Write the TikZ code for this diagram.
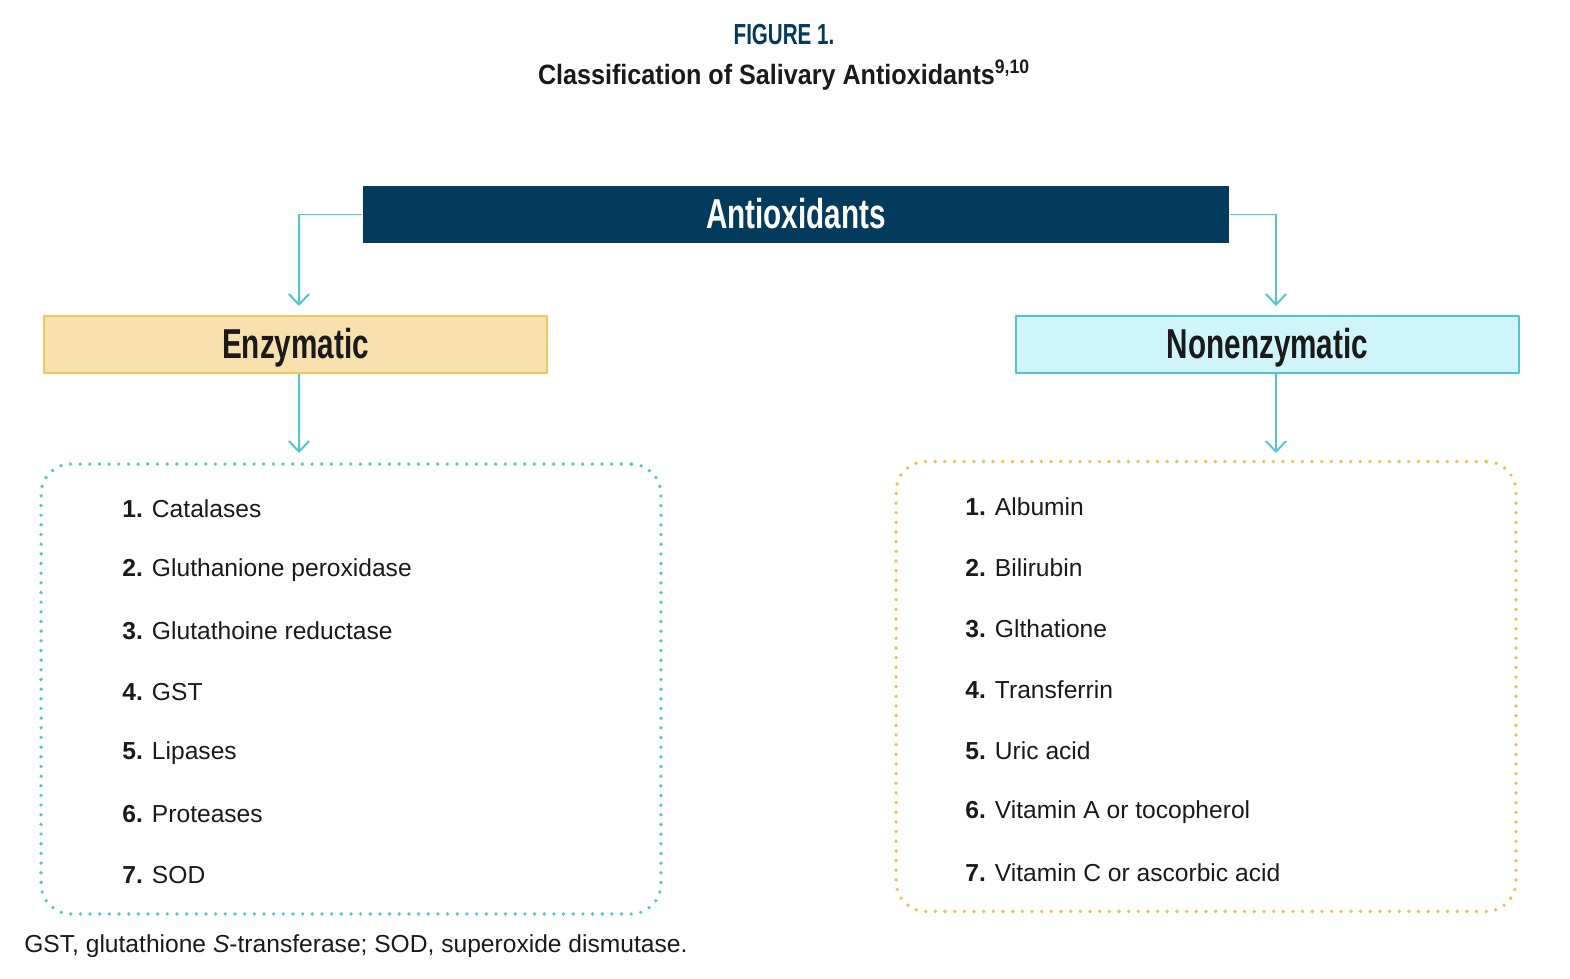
\documentclass[tikz,border=0pt]{standalone}
\usepackage{fontspec}
\setmainfont{Liberation Sans}
\newfontfamily\headfont[FakeStretch=0.71]{Liberation Sans}
\newfontfamily\titlefont[FakeStretch=0.9]{Liberation Sans}
\usetikzlibrary{arrows.meta}
\definecolor{navy}{HTML}{043A5C}
\definecolor{teal}{HTML}{4EC6CF}
\definecolor{wheat}{HTML}{F7E0AE}
\definecolor{wheatline}{HTML}{F2C55E}
\definecolor{icecyan}{HTML}{CFF5FA}
\definecolor{amber}{HTML}{F2BD44}
\definecolor{ink}{HTML}{1A1A1A}
\tikzset{
  headbox/.style={minimum width=10.06cm, minimum height=1.14cm, line width=1.1pt,
    font=\headfont\bfseries\fontsize{23.8pt}{28pt}\selectfont, text=ink,
    text depth=0.2ex},
  listbox/.style={minimum width=12.4cm, minimum height=9cm, rounded corners=0.6cm,
    line width=2.1pt, dash pattern=on 0pt off 5.5pt, line cap=round},
  link/.style={teal, line width=1.1pt, -{Straight Barb[length=6pt,width=11.5pt]}},
  item/.style={anchor=west, inner sep=0pt, text=ink, font=\fontsize{14pt}{16pt}\selectfont}
}
\begin{document}
\begin{tikzpicture}[x=0.02cm, y=-0.02cm, line join=round]
\useasboundingbox (0,0) rectangle (1570,978);
% heading
\node[text=navy, font=\headfont\bfseries\fontsize{16.5pt}{18pt}\selectfont] (fig) at (784,35) {FIGURE 1.};
\node[text=ink, font=\titlefont\bfseries\fontsize{15.9pt}{18pt}\selectfont] (title) at (784,75)
  {Classification of Salivary Antioxidants\textsuperscript{9,10}};
% top box and the two classes
\node[headbox, fill=navy, text=white, minimum width=17.32cm] (anti) at (796,214.5) {Antioxidants};
\node[headbox, fill=wheat, draw=wheatline] (enz) at (295.5,344.5) {Enzymatic};
\node[headbox, fill=icecyan, draw=teal] (non) at (1267.5,344.5) {Nonenzymatic};
% lists
\node[listbox, draw=teal] (enzlist) at (351,689) {};
\node[listbox, draw=amber] (nonlist) at (1206,686.5) {};
\coordinate (enztip) at (299,306);
\coordinate (nontip) at (1276,306);
\coordinate (enzlisttip) at (299,453);
\coordinate (nonlisttip) at (1276,453);
\draw[link] (anti.west) -| (enztip);
\draw[link] (anti.east) -| (nontip);
\draw[link] (enz.south -| enzlisttip) -- (enzlisttip);
\draw[link] (non.south -| nonlisttip) -- (nonlisttip);
\foreach \t [count=\i] in {Catalases, Gluthanione peroxidase, Glutathoine reductase, GST, Lipases, Proteases, SOD}
  \node[item] (e\i) at (122,{448+61*\i}) {\textbf{\i.} \t};
\foreach \t [count=\i] in {Albumin, Bilirubin, Glthatione, Transferrin, Uric acid, Vitamin A or tocopherol, Vitamin C or ascorbic acid}
  \node[item] (n\i) at (965,{446+61*\i}) {\textbf{\i.} \t};
% footnote
\node[item] (note) at (24,946) {GST, glutathione \textit{S}-transferase; SOD, superoxide dismutase.};
\end{tikzpicture}
\end{document}
